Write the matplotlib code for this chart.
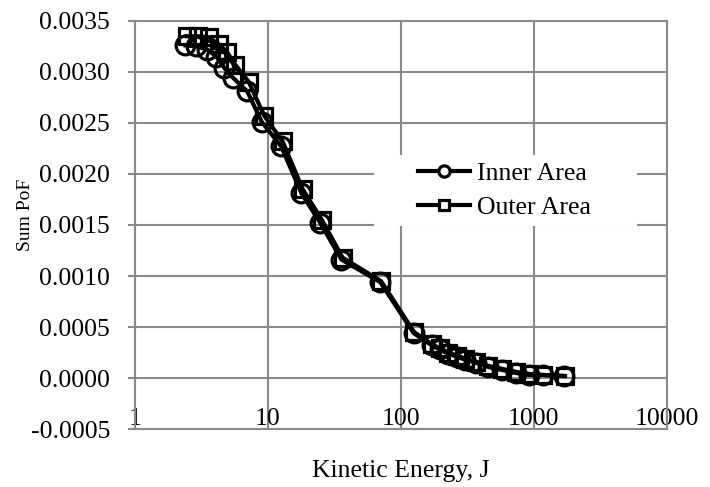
import matplotlib
matplotlib.use('Agg')
import matplotlib.pyplot as plt
from matplotlib.patches import Rectangle
from matplotlib.ticker import FormatStrFormatter, NullLocator

# kinetic energy (J) and summed PoF for the two areas
energy_inner = [2.4, 2.9, 3.5, 4.1, 4.7, 5.5, 7.0, 9.0, 12.6, 17.9, 24.8, 35.8, 70, 125,
                171, 196, 226, 263, 303, 366, 450, 574, 730, 915, 1170, 1700]
pof_inner = [0.00326, 0.00325, 0.00322, 0.00315, 0.00304, 0.00294, 0.00281, 0.00251,
             0.00227, 0.00181, 0.00152, 0.00116, 0.00094, 0.00044, 0.00032, 0.00028,
             0.00024, 0.00021, 0.00018, 0.00015, 0.00011, 0.00008, 0.00005, 0.00003,
             0.00003, 0.00002]

energy_outer = [2.45, 3.0, 3.6, 4.3, 4.9, 5.7, 7.2, 9.4, 12.9, 18.3, 25.5, 36.5, 71, 126,
                172, 198, 228, 265, 306, 370, 455, 580, 740, 925, 1180, 1720]
pof_outer = [0.00335, 0.00335, 0.00334, 0.00327, 0.00320, 0.00307, 0.00290, 0.00257,
             0.00232, 0.00185, 0.00155, 0.00118, 0.00095, 0.00045, 0.00033, 0.00029,
             0.00025, 0.00022, 0.00019, 0.00016, 0.00012, 0.00009, 0.00006, 0.00004,
             0.00003, 0.00002]

x_ticks = [1, 10, 100, 1000, 10000]
x_ticklabels = ['1', '10', '100', '1000', '10000']
y_ticks = [-0.0005, 0.0, 0.0005, 0.0010, 0.0015, 0.0020, 0.0025, 0.0030, 0.0035]

plt.rcParams['font.family'] = ['Liberation Serif', 'DejaVu Serif']
grey = '#8a8a8a'

fig = plt.figure(figsize=(7.10, 4.87), dpi=100)
ax = fig.add_axes([0.190, 0.119, 0.749, 0.838])

ax.plot(energy_inner, pof_inner, color='black', lw=3, marker='o', ms=13.5,
        mfc='none', mec='black', mew=2.3, label='Inner Area', zorder=3)
ax.plot(energy_outer, pof_outer, color='black', lw=3, marker='s', ms=11,
        mfc='none', mec='black', mew=2.3, label='Outer Area', zorder=4)

ax.set_xscale('log')
ax.set_xlim(1, 10000)
ax.set_ylim(-0.0005, 0.0035)
ax.set_xticks(x_ticks)
ax.set_xticklabels(x_ticklabels)
ax.xaxis.set_minor_locator(NullLocator())
ax.set_yticks(y_ticks)
ax.yaxis.set_major_formatter(FormatStrFormatter('%.4f'))

ax.grid(True, color=grey, lw=1.5, zorder=0)
ax.set_axisbelow(True)
for sp in ax.spines.values():
    sp.set_color(grey)
    sp.set_linewidth(1.5)

ax.tick_params(axis='y', length=5, width=1.5, color=grey, pad=13, labelsize=18.5)
ax.tick_params(axis='x', length=0, pad=-15, labelsize=18.5)

ax.set_xlabel('Kinetic Energy, J', fontsize=18.5)
ax.xaxis.set_label_coords(0.5, -0.076)
ax.set_ylabel('Sum PoF', fontsize=14)
ax.yaxis.set_label_coords(-0.19, 0.525)

# white box behind the legend
ax.add_patch(Rectangle((0.449, 0.4975), 0.496, 0.174, transform=ax.transAxes,
                       facecolor='white', edgecolor='none', zorder=2))
leg = ax.legend(loc='center', bbox_to_anchor=(0.695, 0.585), frameon=False,
                fontsize=18.5, handlelength=2.06, handletextpad=0.27,
                labelspacing=0.42, markerscale=0.6)
leg.set_zorder(5)
for h in leg.legend_handles:
    h.set_markerfacecolor('white')

fig.savefig('out.png', dpi=100)
